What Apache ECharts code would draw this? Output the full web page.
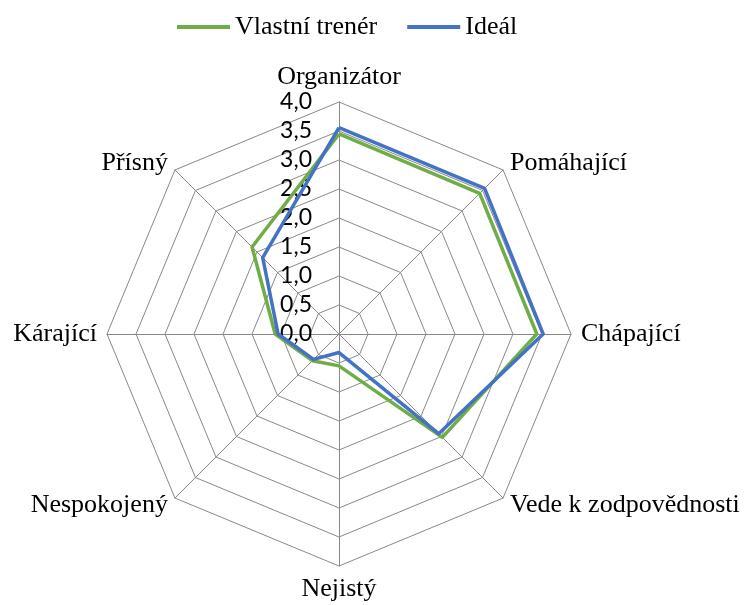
<!DOCTYPE html>
<html>
<head>
<meta charset="utf-8">
<script src="https://cdn.jsdelivr.net/npm/echarts@6/dist/echarts.min.js"></script>
<style>
html,body{margin:0;padding:0;background:#fff;}
#chart{width:751px;height:605px;}
</style>
</head>
<body>
<div id="chart"></div>
<script>
// Categories in clockwise order starting at the top
const categories = ['Organizátor', 'Pomáhající', 'Chápající', 'Vede k zodpovědnosti', 'Nejistý', 'Nespokojený', 'Kárající', 'Přísný'];
const seriesNames = ['Vlastní trenér', 'Ideál'];
const vlastniTrener = [3.45, 3.43, 3.41, 2.52, 0.55, 0.65, 1.10, 2.12];
const ideal = [3.56, 3.55, 3.52, 2.43, 0.32, 0.62, 1.05, 1.86];
const tickLabels = ['0,0', '0,5', '1,0', '1,5', '2,0', '2,5', '3,0', '3,5', '4,0'];
const axisMax = 4;

// ECharts lays out radar indicators counter-clockwise; reorder to get clockwise
const order = [0].concat(categories.map((_, i) => i).slice(1).reverse());
const reorder = arr => order.map(i => arr[i]);

const indicator = reorder(categories).map((name, k) => {
  const ind = { name: name, min: 0, max: axisMax };
  if (k === 0) {
    ind.axisLabel = {
      show: true,
      color: '#000',
      fontFamily: 'Lato',
      fontSize: 23,
      margin: 27,
      padding: [6, 0, 0, 0],
      formatter: v => tickLabels[Math.round(v / 0.5)] || ''
    };
  }
  return ind;
});

const chart = echarts.init(document.getElementById('chart'), null, { renderer: 'canvas' });
chart.setOption({
  animation: false,
  backgroundColor: '#fff',
  legend: {
    top: 9,
    left: 172,
    icon: 'rect',
    itemWidth: 53,
    itemHeight: 4,
    itemGap: 30,
    textStyle: { fontFamily: 'Liberation Serif', fontSize: 26, color: '#000' },
    data: seriesNames
  },
  radar: {
    center: [339, 334],
    radius: 232,
    shape: 'polygon',
    splitNumber: 8,
    startAngle: 90,
    axisName: { color: '#000', fontFamily: 'Liberation Serif', fontSize: 26 },
    nameGap: 10,
    axisLine: { lineStyle: { color: '#898989', width: 1 } },
    splitLine: { lineStyle: { color: '#898989', width: 1 } },
    splitArea: { show: false },
    axisTick: { show: false },
    axisLabel: { show: false },
    indicator: indicator
  },
  series: [{
    type: 'radar',
    symbol: 'none',
    data: [
      { name: seriesNames[0], value: reorder(vlastniTrener), lineStyle: { color: '#70AD47', width: 3.5 }, itemStyle: { color: '#70AD47' } },
      { name: seriesNames[1], value: reorder(ideal), lineStyle: { color: '#4472C4', width: 3.5 }, itemStyle: { color: '#4472C4' } }
    ]
  }]
});
</script>
</body>
</html>
